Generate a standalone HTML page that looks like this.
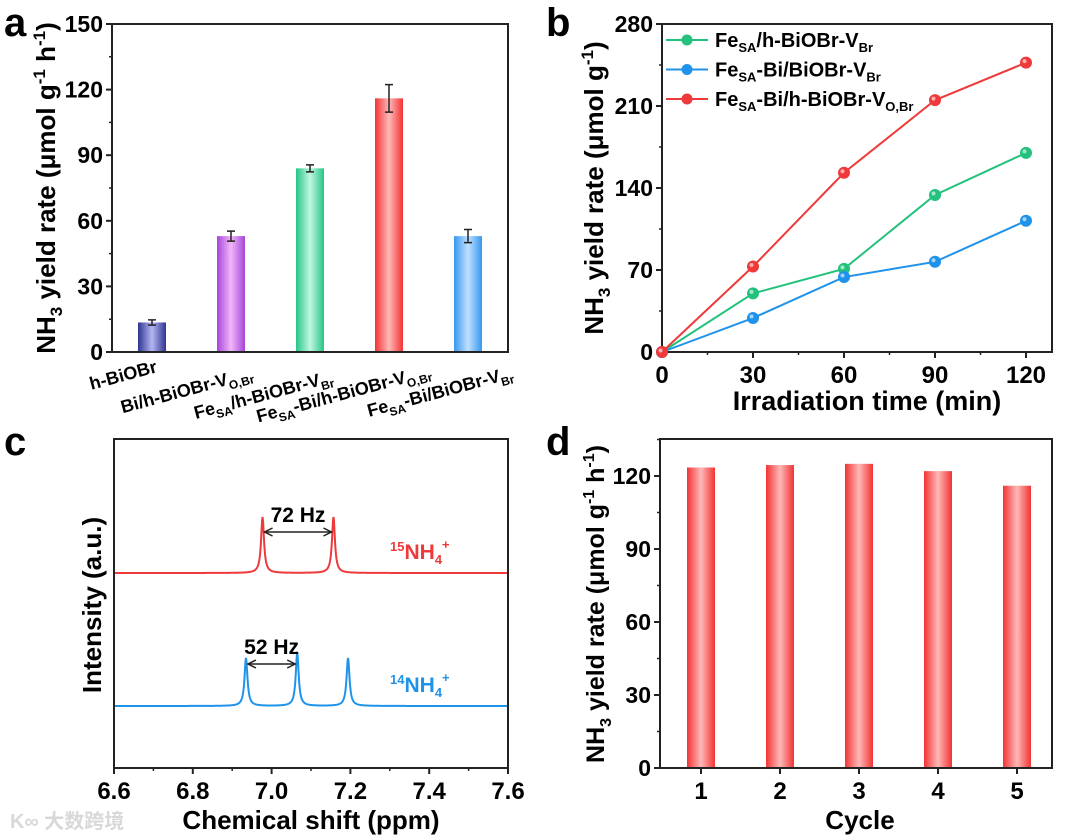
<!DOCTYPE html>
<html><head><meta charset="utf-8">
<style>
html,body{margin:0;padding:0;background:#fff;}
svg{display:block;font-family:"Liberation Sans","Noto Sans CJK SC",sans-serif;font-weight:bold;}
</style></head>
<body>
<svg id="fig" width="1080" height="837" viewBox="0 0 1080 837" xmlns="http://www.w3.org/2000/svg">
<defs>
<linearGradient id="gNavy" x1="0" x2="1"><stop offset="0" stop-color="#2f3490"/><stop offset="0.5" stop-color="#b3b6f2"/><stop offset="1" stop-color="#2f3490"/></linearGradient>
<linearGradient id="gPurple" x1="0" x2="1"><stop offset="0" stop-color="#a545d8"/><stop offset="0.5" stop-color="#f2b6fa"/><stop offset="1" stop-color="#a545d8"/></linearGradient>
<linearGradient id="gGreen" x1="0" x2="1"><stop offset="0" stop-color="#27c585"/><stop offset="0.5" stop-color="#bff8e2"/><stop offset="1" stop-color="#27c585"/></linearGradient>
<linearGradient id="gRed" x1="0" x2="1"><stop offset="0" stop-color="#f23333"/><stop offset="0.5" stop-color="#ffb8b8"/><stop offset="1" stop-color="#f23333"/></linearGradient>
<linearGradient id="gBlue" x1="0" x2="1"><stop offset="0" stop-color="#3698f0"/><stop offset="0.5" stop-color="#bfe0ff"/><stop offset="1" stop-color="#3698f0"/></linearGradient>
</defs>

<text x="4" y="36" font-size="40">a</text>
<text x="546" y="36" font-size="40">b</text>
<text x="4" y="455" font-size="40">c</text>
<text x="546" y="455" font-size="40">d</text>

<g id="pa">
<text transform="translate(55,188) rotate(-90)" text-anchor="middle" font-size="26">NH<tspan font-size="17" dy="7">3</tspan><tspan dy="-7"> yield rate (μmol g</tspan><tspan font-size="17" dy="-10">-1</tspan><tspan dy="10"> h</tspan><tspan font-size="17" dy="-10">-1</tspan><tspan dy="10">)</tspan></text>
</g>
<g id="pb">
<text transform="translate(603,188) rotate(-90)" text-anchor="middle" font-size="26">NH<tspan font-size="17" dy="7">3</tspan><tspan dy="-7"> yield rate (μmol g</tspan><tspan font-size="17" dy="-10">-1</tspan><tspan dy="10">)</tspan></text>
<text x="867" y="410" text-anchor="middle" font-size="27">Irradiation time (min)</text>
</g>
<g id="pc">
<text transform="translate(101,605) rotate(-90)" text-anchor="middle" font-size="26">Intensity (a.u.)</text>
<text x="311" y="829" text-anchor="middle" font-size="26">Chemical shift (ppm)</text>
</g>
<g id="pd">
<text transform="translate(604,604) rotate(-90)" text-anchor="middle" font-size="25">NH<tspan font-size="16" dy="7">3</tspan><tspan dy="-7"> yield rate (μmol g</tspan><tspan font-size="16" dy="-10">-1</tspan><tspan dy="10"> h</tspan><tspan font-size="16" dy="-10">-1</tspan><tspan dy="10">)</tspan></text>
<text x="860" y="829" text-anchor="middle" font-size="26">Cycle</text>
</g>
<text x="10" y="828" font-size="20" fill="#d8d8d8">K∞ 大数跨境</text>
</svg>
<script>
// ---- Panel a data ----
const aCategories = ["h-BiOBr","Bi/h-BiOBr-VO,Br","FeSA/h-BiOBr-VBr","FeSA-Bi/h-BiOBr-VO,Br","FeSA-Bi/BiOBr-VBr"];
const aValues = [13.5, 53, 84, 116, 53];
const aErrors = [1.2, 2.3, 1.6, 6.3, 3.0];
const aTicks = [0, 30, 60, 90, 120, 150];
// ---- Panel b data ----
const bTimes = [0, 30, 60, 90, 120];
const bGreen = [0, 50, 71, 134, 170];
const bBlue = [0, 29, 64, 77, 112];
const bRed = [0, 73, 153, 215, 247];
const bYTicks = [0, 70, 140, 210, 280];
const bXTicks = [0, 30, 60, 90, 120];
// ---- Panel c data ----
const c15Peaks = [6.977, 7.157];
const c15Heights = [56, 56];
const c14Peaks = [6.935, 7.065, 7.194];
const c14Heights = [48, 53, 48];
const cXTicks = [6.6, 6.8, 7.0, 7.2, 7.4, 7.6];
// ---- Panel d data ----
const dCycles = [1, 2, 3, 4, 5];
const dValues = [123.5, 124.5, 125, 122, 116];
const dTicks = [0, 30, 60, 90, 120];

const NS = "http://www.w3.org/2000/svg";
function mk(parent, tag, attrs, text) {
  const e = document.createElementNS(NS, tag);
  for (const k in attrs) e.setAttribute(k, attrs[k]);
  if (text !== undefined) e.textContent = text;
  parent.appendChild(e);
  return e;
}
function frame(g, x0, y0, x1, y1) {
  const r = mk(g, "rect", {x: x0, y: y0, width: x1 - x0, height: y1 - y0, fill: "none", stroke: "#222", "stroke-width": 2});
  
  
}
function yAxis(g, ticks, sy, x0, name) {
  ticks.forEach((t, i) => {
    mk(g, "line", {x1: x0 - 6, x2: x0, y1: sy(t), y2: sy(t), stroke: "#222", "stroke-width": 2});
    if (i < ticks.length - 1) {
      const m = (t + ticks[i + 1]) / 2;
      mk(g, "line", {x1: x0 - 3, x2: x0, y1: sy(m), y2: sy(m), stroke: "#222", "stroke-width": 1.5});
    }
    const tl = mk(g, "text", {x: x0 - 9, y: sy(t) + 8, "text-anchor": "end", "font-size": 23}, String(t));
    
    
  });
}

// ===== Panel a =====
(function () {
  const g = document.getElementById("pa");
  const X0 = 112, X1 = 508, Y0 = 24, Y1 = 352;
  const sy = v => Y1 - (v / 150) * (Y1 - Y0);
  const sx = i => 152 + i * 79;
  const fills = ["url(#gNavy)", "url(#gPurple)", "url(#gGreen)", "url(#gRed)", "url(#gBlue)"];
  aValues.forEach((v, i) => {
    const b = mk(g, "rect", {x: sx(i) - 14, y: sy(v), width: 28, height: Y1 - sy(v), fill: fills[i]});
    
    
    const e = aErrors[i], cx = sx(i);
    const eb = mk(g, "path", {d: `M${cx},${sy(v + e)}V${sy(v - e)}M${cx - 4},${sy(v + e)}H${cx + 4}M${cx - 4},${sy(v - e)}H${cx + 4}`, stroke: "#222", "stroke-width": 1.5, fill: "none"});
    
    
  });
  frame(g, X0, Y0, X1, Y1);
  yAxis(g, aTicks, sy, X0, 'panel-a-y');
  const ends = [[158, 372], [254, 378], [334, 382], [432, 376], [514, 378]];
  const parts = [
    [["h-BiOBr", 0]],
    [["Bi/h-BiOBr-V", 0], ["O,Br", 1]],
    [["Fe", 0], ["SA", 1], ["/h-BiOBr-V", 0], ["Br", 1]],
    [["Fe", 0], ["SA", 1], ["-Bi/h-BiOBr-V", 0], ["O,Br", 1]],
    [["Fe", 0], ["SA", 1], ["-Bi/BiOBr-V", 0], ["Br", 1]]
  ];
  aCategories.forEach((c, i) => {
    const t = mk(g, "text", {x: ends[i][0], y: ends[i][1], "text-anchor": "end", "font-size": 18, transform: `rotate(-15 ${ends[i][0]} ${ends[i][1]})`});
    
    
    let sub = 0;
    parts[i].forEach(p => {
      const dy = p[1] ? (sub ? 0 : 5) : (sub ? -5 : 0);
      sub = p[1];
      mk(t, "tspan", {dy: dy, "font-size": p[1] ? 12 : 18}, p[0]);
    });
  });
})();

// ===== Panel b =====
(function () {
  const g = document.getElementById("pb");
  const X0 = 662, X1 = 1052, Y0 = 24, Y1 = 352;
  const sy = v => Y1 - (v / 280) * (Y1 - Y0);
  const sx = t => X0 + (t / 120) * (1026 - X0);
  frame(g, X0, Y0, X1, Y1);
  yAxis(g, bYTicks, sy, X0, 'panel-b-y');
  bXTicks.forEach((t, i) => {
    mk(g, "line", {x1: sx(t), x2: sx(t), y1: Y1, y2: Y1 + 6, stroke: "#222", "stroke-width": 2});
    if (i < bXTicks.length - 1) mk(g, "line", {x1: sx(t + 15), x2: sx(t + 15), y1: Y1, y2: Y1 + 3, stroke: "#222", "stroke-width": 1.5});
    const tl = mk(g, "text", {x: sx(t), y: Y1 + 31, "text-anchor": "middle", "font-size": 24}, String(t));
    
    
  });
  const series = [[bGreen, "#22c27c", "series-fesa-h-biobr-vbr"], [bBlue, "#1f93ea", "series-fesa-bi-biobr-vbr"], [bRed, "#ee3a3a", "series-fesa-bi-h-biobr-vobr"]];
  series.forEach(s => {
    const pl = mk(g, "polyline", {points: bTimes.map((t, i) => sx(t) + "," + sy(s[0][i])).join(" "), fill: "none", stroke: s[1], "stroke-width": 2});
    
    
    bTimes.forEach((t, i) => {
      const c = mk(g, "circle", {cx: sx(t), cy: sy(s[0][i]), r: 5.5, fill: s[1], stroke: s[1]});
      
      
      mk(g, "circle", {cx: sx(t) - 1.5, cy: sy(s[0][i]) - 1.5, r: 2, fill: "#fff", opacity: 0.6});
    });
  });
  const leg = [["#22c27c", [["Fe", 0], ["SA", 1], ["/h-BiOBr-V", 0], ["Br", 1]]],
               ["#1f93ea", [["Fe", 0], ["SA", 1], ["-Bi/BiOBr-V", 0], ["Br", 1]]],
               ["#ee3a3a", [["Fe", 0], ["SA", 1], ["-Bi/h-BiOBr-V", 0], ["O,Br", 1]]]];
  leg.forEach((l, i) => {
    const y = 40 + i * 29.5;
    const lg = mk(g, "g", {});
    
    
    mk(lg, "line", {x1: 666, x2: 708, y1: y, y2: y, stroke: l[0], "stroke-width": 2});
    mk(lg, "circle", {cx: 687, cy: y, r: 5.5, fill: l[0]});
    const t = mk(lg, "text", {x: 715, y: y + 7, "font-size": 20});
    let sub = 0;
    l[1].forEach(p => {
      const dy = p[1] ? (sub ? 0 : 5) : (sub ? -5 : 0);
      sub = p[1];
      mk(t, "tspan", {dy: dy, "font-size": p[1] ? 13 : 20}, p[0]);
    });
  });
})();

// ===== Panel c =====
(function () {
  const g = document.getElementById("pc");
  const X0 = 114, X1 = 508, Y0 = 439, Y1 = 768;
  const sx = p => X0 + (p - 6.6) / 1.0 * (X1 - X0);
  frame(g, X0, Y0, X1, Y1);
  cXTicks.forEach((t, i) => {
    mk(g, "line", {x1: sx(t), x2: sx(t), y1: Y1, y2: Y1 + 6, stroke: "#222", "stroke-width": 2});
    if (i < cXTicks.length - 1) mk(g, "line", {x1: sx(t + 0.1), x2: sx(t + 0.1), y1: Y1, y2: Y1 + 3, stroke: "#222", "stroke-width": 1.5});
    const tl = mk(g, "text", {x: sx(t), y: Y1 + 31, "text-anchor": "middle", "font-size": 24}, t.toFixed(1));
    
    
  });
  function spectrum(peaks, heights, base, color, name) {
    const w = 0.0045;
    let d = "";
    for (let px = X0 + 1; px <= X1 - 1; px += 0.5) {
      const p = 6.6 + (px - X0) / (X1 - X0);
      let v = 0;
      peaks.forEach((c, i) => { const z = (p - c) / w; v += heights[i] / (1 + z * z); });
      d += (d ? "L" : "M") + px.toFixed(1) + "," + (base - v).toFixed(2);
    }
    const pa = mk(g, "path", {d: d, fill: "none", stroke: color, "stroke-width": 2});
    
    
  }
  spectrum(c15Peaks, c15Heights, 573, "#ee3a3a", "spectrum-15nh4");
  spectrum(c14Peaks, c14Heights, 706, "#1f93ea", "spectrum-14nh4");
  function arrow(xa, xb, y, label, name) {
    const ag = mk(g, "g", {});
    
    
    mk(ag, "line", {x1: xa, x2: xb, y1: y, y2: y, stroke: "#222", "stroke-width": 1.5});
    mk(ag, "path", {d: `M${xa + 8},${y - 4}L${xa},${y}L${xa + 8},${y + 4}M${xb - 8},${y - 4}L${xb},${y}L${xb - 8},${y + 4}`, fill: "none", stroke: "#222", "stroke-width": 1.5});
    mk(ag, "text", {x: (xa + xb) / 2, y: y - 10, "text-anchor": "middle", "font-size": 21}, label);
  }
  arrow(sx(c15Peaks[0]) + 2, sx(c15Peaks[1]) - 2, 532, "72 Hz", "coupling-72hz");
  arrow(sx(c14Peaks[0]) + 2, sx(c14Peaks[1]) - 2, 664, "52 Hz", "coupling-52hz");
  const l1 = mk(g, "text", {x: 390, y: 559, "font-size": 21, fill: "#ee3a3a"});
  
  
  mk(l1, "tspan", {"font-size": 13, dy: -8}, "15");
  mk(l1, "tspan", {dy: 8}, "NH");
  mk(l1, "tspan", {"font-size": 13, dy: 5}, "4");
  mk(l1, "tspan", {"font-size": 13, dy: -15}, "+");
  const l2 = mk(g, "text", {x: 390, y: 692, "font-size": 21, fill: "#1f93ea"});
  
  
  mk(l2, "tspan", {"font-size": 13, dy: -8}, "14");
  mk(l2, "tspan", {dy: 8}, "NH");
  mk(l2, "tspan", {"font-size": 13, dy: 5}, "4");
  mk(l2, "tspan", {"font-size": 13, dy: -15}, "+");
})();

// ===== Panel d =====
(function () {
  const g = document.getElementById("pd");
  const X0 = 660, X1 = 1052, Y0 = 439, Y1 = 768;
  const sy = v => Y1 - (v / 120) * (Y1 - 476);
  const sx = c => 701 + (c - 1) * 79;
  dValues.forEach((v, i) => {
    const b = mk(g, "rect", {x: sx(dCycles[i]) - 14, y: sy(v), width: 28, height: Y1 - sy(v), fill: "url(#gRed)"});
    
    
  });
  frame(g, X0, Y0, X1, Y1);
  yAxis(g, dTicks, sy, X0, 'panel-d-y');
  mk(g, "line", {x1: X0 - 3, x2: X0, y1: sy(135), y2: sy(135), stroke: "#222", "stroke-width": 1.5});
  dCycles.forEach(c => {
    mk(g, "line", {x1: sx(c), x2: sx(c), y1: Y1, y2: Y1 + 6, stroke: "#222", "stroke-width": 2});
    const tl = mk(g, "text", {x: sx(c), y: Y1 + 31, "text-anchor": "middle", "font-size": 24}, String(c));
    
    
  });
})();
</script>
</body></html>
